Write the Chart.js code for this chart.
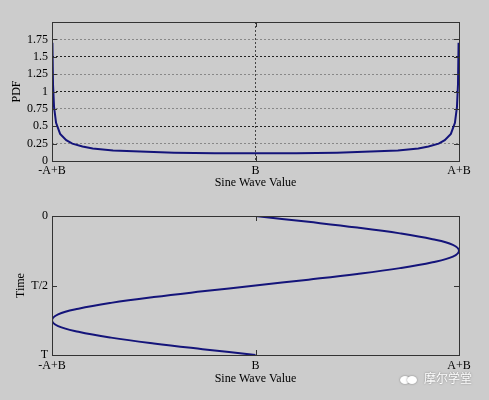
<!DOCTYPE html>
<html>
<head>
<meta charset="utf-8">
<script src="https://cdn.jsdelivr.net/npm/chart.js@4/dist/chart.umd.min.js"></script>
<style>
  body { margin: 0; background: #cccccc; width: 489px; height: 400px; overflow: hidden; position: relative; }
  canvas { position: absolute; left: 0; }
  #mark { position: absolute; left: 400px; top: 369px; font: 12px "Noto Sans CJK SC"; color: #fff;
          text-shadow: 0 0 2px #777; white-space: nowrap; }
  #mark i { display: inline-block; width: 10px; height: 8px; border-radius: 50%; background: #fff;
            box-shadow: 0 0 2px #777; margin-right: -3px; vertical-align: middle; }
</style>
</head>
<body>
<canvas id="pdf" width="489" height="200" style="top:0"></canvas>
<canvas id="wave" width="489" height="200" style="top:200px"></canvas>
<div id="mark"><i></i><i style="margin-right:7px"></i>摩尔学堂</div>
<script>
// value axis: -1 = -A+B, 0 = B, 1 = A+B
var valueTicks = [-1, 0, 1];
var valueLabels = ['-A+B', 'B', 'A+B'];

// top: PDF of the sine wave value
var pdfX = [-0.998, -0.995, -0.99, -0.98, -0.96, -0.93, -0.9, -0.85, -0.8, -0.7, -0.6, -0.5, -0.4, -0.3, -0.2, -0.1, 0,
            0.1, 0.2, 0.3, 0.4, 0.5, 0.6, 0.7, 0.8, 0.85, 0.9, 0.93, 0.96, 0.98, 0.99, 0.995, 0.998];
var pdfY = [1.70, 1.10, 0.78, 0.55, 0.39, 0.30, 0.25, 0.21, 0.18, 0.15, 0.14, 0.13, 0.12, 0.115, 0.11, 0.11, 0.11,
            0.11, 0.11, 0.115, 0.12, 0.13, 0.14, 0.15, 0.18, 0.21, 0.25, 0.30, 0.39, 0.55, 0.78, 1.10, 1.70];
var pdfTicks = [0, 0.25, 0.5, 0.75, 1, 1.25, 1.5, 1.75];

// bottom: one period of the wave, time as a fraction of T
var timeFrac = [0, 0.042, 0.083, 0.125, 0.167, 0.208, 0.25, 0.292, 0.333, 0.375, 0.417, 0.458, 0.5,
                0.542, 0.583, 0.625, 0.667, 0.708, 0.75, 0.792, 0.833, 0.875, 0.917, 0.958, 1];
var waveValue = [0, 0.26, 0.5, 0.71, 0.87, 0.97, 1, 0.97, 0.87, 0.71, 0.5, 0.26, 0,
                 -0.26, -0.5, -0.71, -0.87, -0.97, -1, -0.97, -0.87, -0.71, -0.5, -0.26, 0];
var timeTicks = [0, 0.5, 1];
var timeLabels = ['0', 'T/2', 'T'];

var serif = 'Liberation Serif';
var lineColor = '#14147a';

function toPoints(xs, ys) {
  return xs.map(function (x, i) { return { x: x, y: ys[i] }; });
}

// box round the axes and short inward tick marks, like the original plot
var boxTicks = {
  id: 'boxTicks',
  afterDatasetsDraw: function (chart) {
    var c = chart.ctx, a = chart.chartArea, sx = chart.scales.x, sy = chart.scales.y;
    c.save();
    c.strokeStyle = '#333';
    c.lineWidth = 1;
    c.beginPath();
    sx.ticks.forEach(function (t) {
      var px = Math.round(sx.getPixelForValue(t.value)) + 0.5;
      c.moveTo(px, a.bottom); c.lineTo(px, a.bottom - 5);
      c.moveTo(px, a.top); c.lineTo(px, a.top + 5);
    });
    sy.ticks.forEach(function (t) {
      var py = Math.round(sy.getPixelForValue(t.value)) + 0.5;
      c.moveTo(a.left, py); c.lineTo(a.left + 5, py);
      c.moveTo(a.right, py); c.lineTo(a.right - 5, py);
    });
    c.stroke();
    c.strokeRect(Math.round(a.left) + 0.5, Math.round(a.top) + 0.5,
                 Math.round(a.right - a.left), Math.round(a.bottom - a.top));
    c.restore();
  }
};

function fixedTicks(list) {
  return function (s) { s.ticks = list.map(function (v) { return { value: v }; }); };
}

function valueAxis(height, tickPad, titlePad, gridOn) {
  return {
    type: 'linear', min: -1, max: 1,
    afterBuildTicks: fixedTicks(valueTicks),
    afterFit: function (s) { s.height = height; },
    ticks: {
      color: '#000', padding: tickPad, maxRotation: 0, autoSkip: false,
      font: { family: serif, size: 12 },
      callback: function (v) { return valueLabels[valueTicks.indexOf(v)]; }
    },
    grid: {
      drawTicks: false,
      color: function (ctx) { return gridOn && ctx.tick && ctx.tick.value === 0 ? '#444' : 'rgba(0,0,0,0)'; }
    },
    border: { display: false, dash: [2, 2] },
    title: { display: true, text: 'Sine Wave Value', color: '#000', font: { family: serif, size: 12 },
             padding: { top: 0, bottom: titlePad } }
  };
}

new Chart(document.getElementById('pdf'), {
  type: 'scatter',
  data: {
    datasets: [{
      data: toPoints(pdfX, pdfY),
      showLine: true, borderColor: lineColor, borderWidth: 2, pointRadius: 0, tension: 0
    }]
  },
  options: {
    responsive: false, animation: false,
    layout: { padding: { top: 22, right: 30, left: 0, bottom: 0 } },
    plugins: { legend: { display: false }, tooltip: { enabled: false } },
    scales: {
      x: valueAxis(39, 3, 10, true),
      y: {
        type: 'linear', min: 0, max: 2,
        afterBuildTicks: fixedTicks(pdfTicks),
        afterFit: function (s) { s.width = 52; },
        ticks: {
          color: '#000', padding: 4, autoSkip: false, font: { family: serif, size: 12 },
          callback: function (v) { return String(v); }
        },
        grid: {
          drawTicks: false,
          color: function (ctx) {
            var v = ctx.tick ? ctx.tick.value : 0;
            if (v <= 0) return 'rgba(0,0,0,0)';
            return v % 0.5 === 0 ? '#222' : '#888';
          }
        },
        border: { display: false, dash: [2, 2] },
        title: { display: true, text: 'PDF', color: '#000', font: { family: serif, size: 12 }, padding: { top: 10 } }
      }
    }
  },
  plugins: [boxTicks]
});

new Chart(document.getElementById('wave'), {
  type: 'scatter',
  data: {
    datasets: [{
      data: toPoints(waveValue, timeFrac),
      showLine: true, borderColor: lineColor, borderWidth: 2, pointRadius: 0, tension: 0.4
    }]
  },
  options: {
    responsive: false, animation: false,
    layout: { padding: { top: 16, right: 30, left: 0, bottom: 0 } },
    plugins: { legend: { display: false }, tooltip: { enabled: false } },
    scales: {
      x: valueAxis(45, 4, 14, false),
      y: {
        type: 'linear', min: 0, max: 1, reverse: true,
        afterBuildTicks: fixedTicks(timeTicks),
        afterFit: function (s) { s.width = 52; },
        ticks: {
          color: '#000', padding: 4, autoSkip: false, font: { family: serif, size: 12 },
          callback: function (v) { return timeLabels[timeTicks.indexOf(v)]; }
        },
        grid: { drawTicks: false, color: 'rgba(0,0,0,0)' },
        border: { display: false },
        title: { display: true, text: 'Time', color: '#000', font: { family: serif, size: 12 }, padding: { top: 14 } }
      }
    }
  },
  plugins: [boxTicks]
});
</script>
</body>
</html>
